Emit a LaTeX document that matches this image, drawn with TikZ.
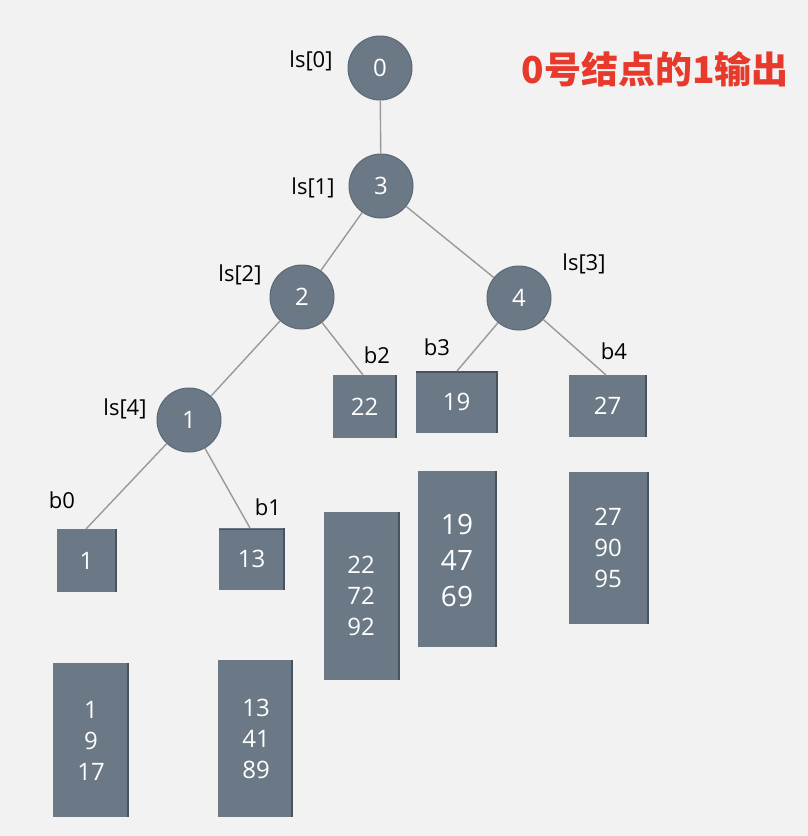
\documentclass[tikz,border=0pt]{standalone}
\usepackage{fontspec}
\setmainfont{Open Sans}
\newfontfamily\cjk{Noto Sans CJK SC}
\begin{document}
\begin{tikzpicture}[x=1pt,y=-1pt,
  circ/.style={circle,draw=nodeedge,line width=1pt,fill=nodefill,minimum size=64pt,inner sep=0pt,text=white,font=\fontsize{24}{28}\selectfont},
  lbl/.style={inner sep=0pt,text=black,font=\fontsize{22}{26}\selectfont},
  edge/.style={draw=edgegray,line width=1.4pt},
  boxtxt/.style={inner sep=0pt,text=white,align=center,font=\fontsize{24}{31}\selectfont}
]
\definecolor{bg}{HTML}{F2F2F2}
\definecolor{nodefill}{HTML}{6B7986}
\definecolor{nodeedge}{HTML}{5C6874}
\definecolor{boxedge}{HTML}{48535D}
\definecolor{edgegray}{HTML}{999999}
\definecolor{titlered}{HTML}{E83A2C}
\fill[bg] (0,0) rectangle (808,836);
\useasboundingbox (0,0) rectangle (808,836);
\newcommand{\slatebox}[5]{% name, x1, y1, x2, y2
  \fill[nodefill] (#2,#3) rectangle (#4,#5);
  \draw[boxedge,line width=1.5pt] (#4,#3) -- (#4,#5);
  \coordinate (#1) at ({(#2+#4)/2},{(#3+#5)/2});
}
% circles
\node[circ] (c0) at (380,68) {0};
\node[circ] (c3) at (381,186) {3};
\node[circ] (c2) at (302,297) {2};
\node[circ] (c4) at (519,298) {4};
\node[circ] (c1) at (189,420) {1};
% small boxes
\slatebox{s1}{57}{529}{116}{592}
\slatebox{s13}{219}{528}{284}{590}
\slatebox{s22}{333}{375}{396}{438}
\slatebox{s19}{416}{371}{497}{433}
\slatebox{s27}{569}{375}{646}{437}
\draw[boxedge,line width=1.5pt] (416,372) -- (497,372);
\draw[boxedge,line width=1pt] (219,529) -- (284,529);
\node[boxtxt] at (s1) {1};
\node[boxtxt] at (s13) {13};
\node[boxtxt] at (s22) {22};
\node[boxtxt] at (s19) {19};
\node[boxtxt] at (s27) {27};
% big boxes
\slatebox{b1}{53}{663}{128}{817}
\slatebox{b13}{218}{660}{292}{817}
\slatebox{b22}{324}{512}{399}{680}
\slatebox{b19}{418}{471}{496}{647}
\slatebox{b27}{569}{472}{648}{624}
\node[boxtxt] at (91,741) {1\\9\\17};
\node[boxtxt] at (256,739) {13\\41\\89};
\node[boxtxt] at (361,596) {22\\72\\92};
\node[boxtxt,font=\fontsize{28}{36}\selectfont] at (457,560) {19\\47\\69};
\node[boxtxt] at (608,548) {27\\90\\95};
% edge end points
\coordinate (e22) at (363,375);
\coordinate (e19) at (457,371);
\coordinate (e27) at (606,375);
\coordinate (e1) at (86,529);
\coordinate (e13) at (250,528);
% edges
\draw[edge] (c0) -- (c3);
\draw[edge] (c3) -- (c2);
\draw[edge] (c3) -- (c4);
\draw[edge] (c2) -- (c1);
\draw[edge] (c2) -- (e22);
\draw[edge] (c4) -- (e19);
\draw[edge] (c4) -- (e27);
\draw[edge] (c1) -- (e1);
\draw[edge] (c1) -- (e13);
% labels
\node[lbl] (l0) at (311,61) {ls[0]};
\node[lbl] (l1) at (313,188) {ls[1]};
\node[lbl] (l2) at (240,275) {ls[2]};
\node[lbl] (l3) at (584,264) {ls[3]};
\node[lbl] (l4) at (125,409) {ls[4]};
\node[lbl] (lb0) at (62,500) {b0};
\node[lbl] (lb1) at (268,507) {b1};
\node[lbl] (lb2) at (377,355) {b2};
\node[lbl] (lb3) at (437,347) {b3};
\node[lbl] (lb4) at (614,351) {b4};
% title
\node[inner sep=0pt,text=titlered,font=\cjk\bfseries\fontsize{37}{42}\selectfont] (title) at (655,69) {0号结点的1输出};
\end{tikzpicture}
\end{document}
